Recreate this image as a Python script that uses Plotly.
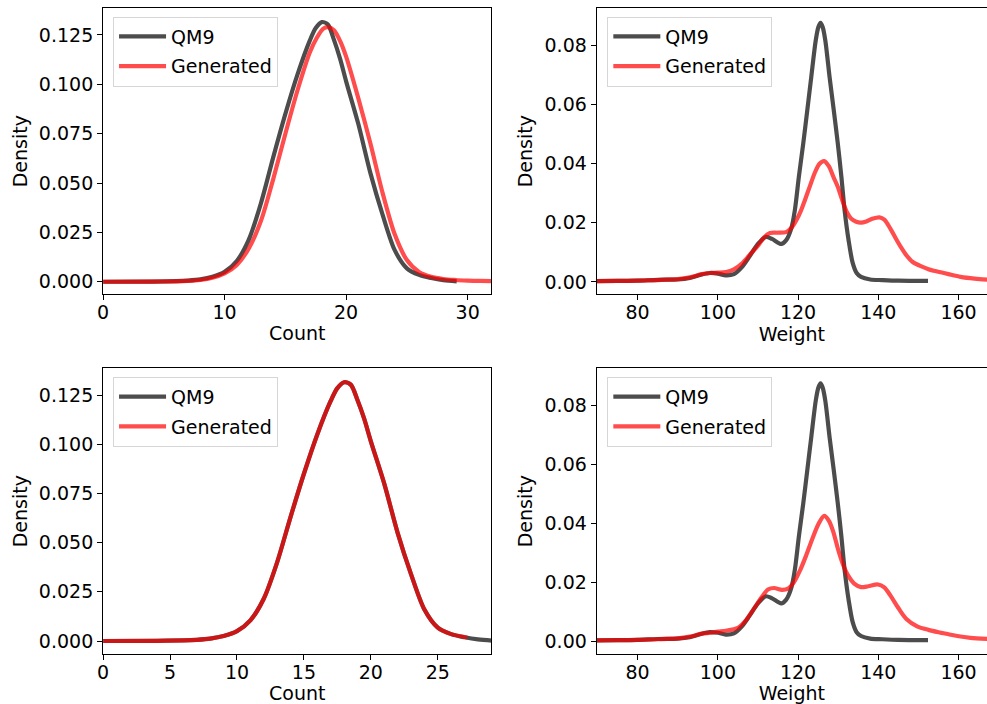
import plotly.graph_objects as go

# ---------------- data ----------------
# Atom count KDE, QM9 (used in both count panels)
count_qm9_x = [0, 4, 6, 7, 8, 9, 10, 11, 12, 13, 14, 15, 16, 17, 17.5, 18, 18.5, 19, 19.5, 20, 21, 22, 23, 24, 25,
               26, 27, 28, 29.1]
count_qm9_y = [0.0, 0.0001, 0.0003, 0.0006, 0.0012, 0.0025, 0.0050, 0.0105, 0.0215, 0.040, 0.063, 0.085, 0.105,
               0.122, 0.1285, 0.1315, 0.1303, 0.1225, 0.1130, 0.1015, 0.080, 0.055, 0.034, 0.016, 0.0068, 0.0035,
               0.0019, 0.0008, 0.0002]

# Atom count KDE, generated (top panel)
count_gen1_x = [0, 4, 6, 7, 8, 9, 10, 11, 12, 13, 14, 15, 16, 17, 17.6, 18.1, 18.5, 19.0, 19.5, 20, 21, 22, 23, 24,
                25, 26, 27, 28, 29, 30, 31, 32]
count_gen1_y = [0.0, 0.0001, 0.0002, 0.0004, 0.0009, 0.0020, 0.0042, 0.0085, 0.0170, 0.031, 0.052, 0.075, 0.097,
                0.116, 0.1237, 0.1281, 0.1290, 0.1274, 0.1220, 0.1140, 0.093, 0.070, 0.045, 0.024, 0.011, 0.0050,
                0.0025, 0.0014, 0.0009, 0.0006, 0.0004, 0.0003]

# Atom count KDE, generated (bottom panel)
count_gen2_x = [0, 4, 6, 7, 8, 9, 10, 11, 12, 13, 14, 15, 16, 17, 17.5, 18, 18.5, 19, 19.5, 20, 21, 22, 23, 24, 25,
                26, 27.2]
count_gen2_y = [0.0, 0.0001, 0.0003, 0.0006, 0.0012, 0.0025, 0.0050, 0.0105, 0.0215, 0.040, 0.063, 0.085, 0.105,
                0.122, 0.1285, 0.1315, 0.1303, 0.1225, 0.1130, 0.1015, 0.080, 0.055, 0.034, 0.016, 0.0068, 0.0035,
                0.0018]

# Molecular weight KDE, QM9 (used in both weight panels)
weight_qm9_x = [68, 75, 80, 85, 90, 93, 96, 98, 100, 102, 104, 106, 108, 110, 112, 113.5, 115.8, 117, 118.3, 119.2,
                120.2, 121.3, 122.3, 123.3, 124.4, 125.05, 125.6, 126.15, 126.8, 127.85, 128.9, 129.9, 130.8, 131.6,
                132.6, 133.6, 134.6, 135.7, 138, 141, 145, 152.4]
weight_qm9_y = [0.0002, 0.0003, 0.0004, 0.0007, 0.0008, 0.0013, 0.0025, 0.0030, 0.0028, 0.0022, 0.0026, 0.0050,
                0.0088, 0.0128, 0.0152, 0.0145, 0.0128, 0.0140, 0.0180, 0.0242, 0.0355, 0.0468, 0.0580, 0.0693,
                0.0815, 0.0860, 0.0875, 0.0860, 0.0815, 0.0693, 0.0580, 0.0468, 0.0355, 0.0242, 0.0140, 0.0065,
                0.0030, 0.0017, 0.0008, 0.0006, 0.0004, 0.0003]

# Molecular weight KDE, generated (top panel)
weight_gen1_x = [68, 75, 80, 85, 90, 93, 96, 98, 100, 102, 104, 106, 108, 110, 111.5, 113, 115, 117, 118.5, 119.6,
                 120.7, 121.7, 123, 124.1, 125.3, 126.5, 127.7, 128.8, 129.9, 130.8, 131.6, 132.4, 133.2, 134.5,
                 135.7, 137, 138.5, 140.3, 141.5, 143, 144.3, 145.6, 147, 148.5, 150.6, 152.5, 154.7, 157.5, 160.5,
                 164, 168]
weight_gen1_y = [0.0002, 0.0003, 0.0004, 0.0006, 0.0009, 0.0015, 0.0026, 0.0030, 0.0031, 0.0033, 0.0042, 0.0062,
                 0.0092, 0.0122, 0.0150, 0.0165, 0.0166, 0.0168, 0.0185, 0.0209, 0.0240, 0.0276, 0.0325, 0.0366,
                 0.0398, 0.0408, 0.0390, 0.0355, 0.0321, 0.0285, 0.0254, 0.0230, 0.0214, 0.0203, 0.0200, 0.0204,
                 0.0213, 0.0218, 0.0210, 0.0180, 0.0148, 0.0118, 0.0090, 0.0068, 0.0053, 0.0043, 0.0035, 0.0026,
                 0.0017, 0.0011, 0.0007]

# Molecular weight KDE, generated (bottom panel)
weight_gen2_x = [68, 75, 80, 85, 90, 93, 96, 98, 100, 102, 105, 107, 109, 111, 112.5, 114, 116, 117.5, 119, 120.5,
                 122, 123.5, 125, 126.5, 127.7, 128.8, 130, 131.2, 132.5, 134, 135.7, 137.5, 139.9, 141.5, 143, 145,
                 147, 149.8, 152.5, 155, 157.5, 159.7, 163, 168]
weight_gen2_y = [0.0002, 0.0003, 0.0004, 0.0006, 0.0009, 0.0015, 0.0025, 0.0028, 0.0032, 0.0035, 0.0045, 0.0070,
                 0.0110, 0.0150, 0.0175, 0.0180, 0.0174, 0.0178, 0.0200, 0.0240, 0.0290, 0.0345, 0.0395, 0.0425,
                 0.0408, 0.0370, 0.0310, 0.0260, 0.0222, 0.0195, 0.0183, 0.0186, 0.0192, 0.0182, 0.0155, 0.0112,
                 0.0075, 0.0049, 0.0038, 0.0030, 0.0023, 0.0017, 0.0011, 0.0007]

series_names = ["QM9", "Generated"]
x_titles = ["Count", "Weight", "Count", "Weight"]
y_title = "Density"

# ---------------- styling ----------------
FONT = "DejaVu Sans"
FS = 19
C_QM9 = "rgba(0,0,0,0.7)"
C_GEN = "rgba(255,0,0,0.7)"
LW = 4.2

W, H = 987, 704
col_dom = [[97.7 / W, 488.3 / W], [594.3 / W, 1.0]]
row_dom = [[1 - 294 / H, 1 - 8.3 / H], [1 - 654 / H, 1 - 368.3 / H]]

panels = [
    # (qm9 x, qm9 y, gen x, gen y, col, row, xrange, yrange, xdtick, ytickformat, ydtick)
    (count_qm9_x, count_qm9_y, count_gen1_x, count_gen1_y, 0, 0, [0, 31.95], [-0.0062, 0.1385], 10, ".3f", 0.025),
    (weight_qm9_x, weight_qm9_y, weight_gen1_x, weight_gen1_y, 1, 0, [69.8, 167.1], [-0.0041, 0.0924], 20, ".2f", 0.02),
    (count_qm9_x, count_qm9_y, count_gen2_x, count_gen2_y, 0, 1, [0, 29.0], [-0.0066, 0.1386], 5, ".3f", 0.025),
    (weight_qm9_x, weight_qm9_y, weight_gen2_x, weight_gen2_y, 1, 1, [69.8, 167.1], [-0.0044, 0.0926], 20, ".2f", 0.02),
]

fig = go.Figure()
layout = dict(
    width=W, height=H, margin=dict(l=0, r=0, t=0, b=0),
    paper_bgcolor="white", plot_bgcolor="white",
    font=dict(family=FONT, size=FS, color="black"),
    showlegend=True,
)

for i, (qx, qy, gx, gy, c, r, xr, yr, xdt, yfmt, ydt) in enumerate(panels):
    n = i + 1
    xa = "x" if n == 1 else f"x{n}"
    ya = "y" if n == 1 else f"y{n}"
    lg = "legend" if n == 1 else f"legend{n}"
    fig.add_trace(go.Scatter(x=qx, y=qy, mode="lines", name=series_names[0], xaxis=xa, yaxis=ya,
                             legendgroup=f"q{n}",
                             line=dict(color=C_QM9, width=LW, shape="spline", smoothing=0.8), legend=lg))
    fig.add_trace(go.Scatter(x=gx, y=gy, mode="lines", name=series_names[1], xaxis=xa, yaxis=ya,
                             legendgroup=f"g{n}",
                             line=dict(color=C_GEN, width=LW, shape="spline", smoothing=0.8), legend=lg))
    right_cut = (c == 1)
    layout["xaxis" if n == 1 else f"xaxis{n}"] = dict(
        domain=col_dom[c], range=xr, anchor=ya, showgrid=False, zeroline=False,
        showline=True, linecolor="black", linewidth=1.1, mirror=True,
        ticks="outside", ticklen=5, tickwidth=1.1, tickcolor="black", ticklabelstandoff=-4,
        tick0=0, dtick=xdt, tickfont=dict(family=FONT, size=FS, color="black"),
        title=dict(text=x_titles[i], font=dict(family=FONT, size=FS, color="black"), standoff=4),
    )
    layout["yaxis" if n == 1 else f"yaxis{n}"] = dict(
        domain=row_dom[r], range=yr, anchor=xa, showgrid=False, zeroline=False,
        showline=True, linecolor="black", linewidth=1.1, mirror=(not right_cut),
        ticks="outside", ticklen=5, tickwidth=1.1, tickcolor="black",
        tick0=0, dtick=ydt, tickformat=yfmt, tickfont=dict(family=FONT, size=FS, color="black"),
        title=dict(text=y_title, font=dict(family=FONT, size=FS, color="black"), standoff=6),
    )
    lx = (107.7 if c == 0 else 605.0) / W
    ly = 1 - (16.5 if r == 0 else 376.8) / H
    layout[lg] = dict(
        x=lx, y=ly, xanchor="left", yanchor="top", xref="paper", yref="paper",
        bgcolor="rgba(255,255,255,0.8)", bordercolor="#d6d6d6", borderwidth=1,
        font=dict(family=FONT, size=FS, color="black"), itemwidth=47,
        tracegroupgap=2,
    )

fig.update_layout(**layout)
fig.write_html("out.html")
